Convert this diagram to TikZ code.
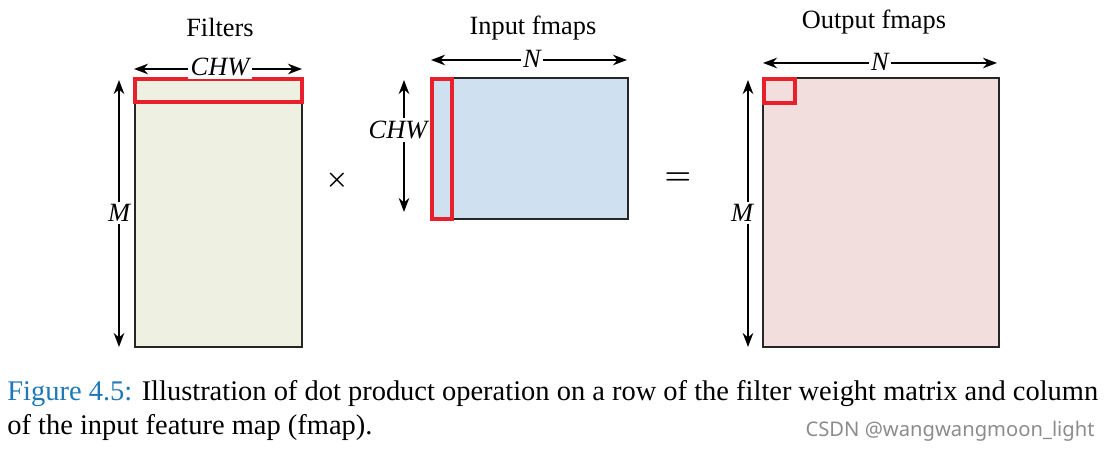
\documentclass[tikz,border=0pt]{standalone}
\usepackage{fontspec}
\setmainfont{Liberation Serif}
\newfontfamily\marksans{Noto Sans}
\usetikzlibrary{arrows.meta}
\definecolor{filtgreen}{RGB}{238,241,226}
\definecolor{inblue}{RGB}{207,224,241}
\definecolor{outpink}{RGB}{243,222,222}
\definecolor{selred}{RGB}{232,32,44}
\definecolor{capblue}{RGB}{30,120,182}
\begin{document}
\begin{tikzpicture}[x=0.02cm, y=-0.02cm,
  matbox/.style={draw=black!85, line width=1pt},
  selbox/.style={draw=selred, line width=1.8pt},
  dimline/.style={{Stealth[length=8pt,width=6pt]}-{Stealth[length=8pt,width=6pt]}, line width=1.2pt},
  dimlabel/.style={fill=white, inner sep=1.5pt, font=\fontsize{15}{15}\selectfont\itshape},
  title/.style={font=\fontsize{15}{15}\selectfont}]

\useasboundingbox (0,0) rectangle (1110,452);

% filters
\draw[matbox, fill=filtgreen] (135,78) rectangle (302,347);
\draw[selbox] (135,79) rectangle (302,102);
\node[title] (filtname) at (220,27) {Filters};
\coordinate (fwl) at (134,69);
\coordinate (fwr) at (302,69);
\draw[dimline] (fwl) -- (fwr);
\node[dimlabel] (fwlab) at (220,67) {CHW};
\coordinate (fht) at (119,80);
\coordinate (fhb) at (119,347);
\draw[dimline] (fht) -- (fhb);
\node[dimlabel] (fhlab) at (119,213) {M};

\node[font=\fontsize{14}{14}\selectfont\boldmath] (times) at (337,180) {$\times$};

% input fmaps
\draw[matbox, fill=inblue] (431,78) rectangle (628,219);
\draw[selbox] (432,79) rectangle (452,219);
\node[title] (inname) at (533,28) {Input fmaps};
\coordinate (iwl) at (431,60);
\coordinate (iwr) at (627,60);
\draw[dimline] (iwl) -- (iwr);
\node[dimlabel] (iwlab) at (532,59) {N};
\coordinate (iht) at (404,80);
\coordinate (ihb) at (404,212);
\draw[dimline] (iht) -- (ihb);
\node[dimlabel] (ihlab) at (398,130) {CHW};

\node[font=\fontsize{18}{18}\selectfont\boldmath] (equals) at (678,179) {$=$};

% output fmaps
\draw[matbox, fill=outpink] (763,78) rectangle (999,347);
\draw[selbox] (764,79) rectangle (795,103);
\node[title] (outname) at (874,22) {Output fmaps};
\coordinate (owl) at (763,63);
\coordinate (owr) at (997,63);
\draw[dimline] (owl) -- (owr);
\node[dimlabel] (owlab) at (880,62) {N};
\coordinate (oht) at (748,80);
\coordinate (ohb) at (748,347);
\draw[dimline] (oht) -- (ohb);
\node[dimlabel] (ohlab) at (742,213) {M};

% caption
\node[anchor=base west, inner sep=0pt, font=\fontsize{16.2}{17}\selectfont] (capone) at (7,401)
  {\textcolor{capblue}{Figure 4.5:} Illustration of dot product operation on a row of the filter weight matrix and column};
\node[anchor=base west, inner sep=0pt, font=\fontsize{16.2}{17}\selectfont] (captwo) at (7,435)
  {of the input feature map (fmap).};
\node[anchor=base east, inner sep=0pt, text=black!45, font=\marksans\fontsize{11.5}{11.5}\selectfont] (mark) at (1095,437)
  {CSDN @wangwangmoon\_light};

\end{tikzpicture}
\end{document}
